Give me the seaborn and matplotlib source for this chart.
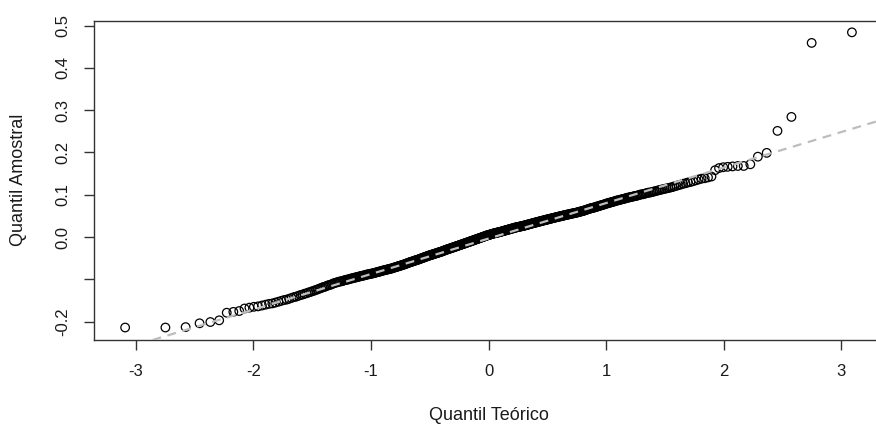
from statistics import NormalDist
import matplotlib
matplotlib.use("Agg")
import matplotlib.pyplot as plt
import numpy as np
import seaborn as sns

# Sorted sample values (rank order 1..500)
amostra = [
    -0.214, -0.214, -0.213, -0.204, -0.201, -0.197, -0.179, -0.177, -0.175, -0.169,
    -0.167, -0.165, -0.164, -0.162, -0.160, -0.158, -0.157, -0.155, -0.153, -0.151,
    -0.149, -0.148, -0.146, -0.144, -0.142, -0.141, -0.139, -0.137, -0.136, -0.134,
    -0.133, -0.131, -0.130, -0.128, -0.127, -0.125, -0.124, -0.122, -0.121, -0.119,
    -0.118, -0.117, -0.115, -0.114, -0.113, -0.112, -0.110, -0.109, -0.108, -0.107,
    -0.106, -0.105, -0.105, -0.104, -0.103, -0.102, -0.101, -0.101, -0.100, -0.099,
    -0.098, -0.098, -0.097, -0.096, -0.096, -0.095, -0.094, -0.094, -0.093, -0.092,
    -0.092, -0.091, -0.091, -0.090, -0.089, -0.089, -0.088, -0.088, -0.087, -0.087,
    -0.086, -0.086, -0.085, -0.085, -0.084, -0.083, -0.083, -0.082, -0.082, -0.081,
    -0.080, -0.080, -0.079, -0.079, -0.078, -0.078, -0.077, -0.077, -0.076, -0.076,
    -0.075, -0.075, -0.074, -0.074, -0.073, -0.072, -0.072, -0.071, -0.071, -0.070,
    -0.069, -0.069, -0.068, -0.068, -0.067, -0.066, -0.066, -0.065, -0.065, -0.064,
    -0.063, -0.063, -0.062, -0.061, -0.061, -0.060, -0.059, -0.059, -0.058, -0.058,
    -0.057, -0.057, -0.056, -0.055, -0.055, -0.054, -0.054, -0.053, -0.053, -0.052,
    -0.051, -0.051, -0.050, -0.050, -0.049, -0.048, -0.048, -0.047, -0.047, -0.046,
    -0.045, -0.045, -0.044, -0.044, -0.043, -0.043, -0.042, -0.042, -0.041, -0.041,
    -0.040, -0.040, -0.039, -0.039, -0.038, -0.038, -0.037, -0.037, -0.036, -0.036,
    -0.035, -0.035, -0.034, -0.034, -0.033, -0.033, -0.032, -0.031, -0.031, -0.030,
    -0.030, -0.029, -0.029, -0.028, -0.028, -0.027, -0.027, -0.026, -0.026, -0.025,
    -0.025, -0.024, -0.024, -0.023, -0.023, -0.022, -0.022, -0.021, -0.021, -0.020,
    -0.020, -0.019, -0.019, -0.018, -0.018, -0.017, -0.017, -0.016, -0.016, -0.015,
    -0.015, -0.014, -0.014, -0.013, -0.013, -0.012, -0.012, -0.011, -0.011, -0.010,
    -0.010, -0.009, -0.009, -0.008, -0.008, -0.007, -0.007, -0.006, -0.006, -0.005,
    -0.005, -0.004, -0.004, -0.003, -0.003, -0.002, -0.002, -0.001, -0.001, 0.000,
    0.000, 0.001, 0.001, 0.002, 0.002, 0.003, 0.003, 0.004, 0.004, 0.005,
    0.005, 0.005, 0.006, 0.006, 0.007, 0.007, 0.007, 0.008, 0.008, 0.009,
    0.009, 0.009, 0.010, 0.010, 0.010, 0.011, 0.011, 0.011, 0.012, 0.012,
    0.012, 0.013, 0.013, 0.014, 0.014, 0.014, 0.015, 0.015, 0.016, 0.016,
    0.016, 0.017, 0.017, 0.018, 0.018, 0.018, 0.019, 0.019, 0.020, 0.020,
    0.020, 0.021, 0.021, 0.022, 0.022, 0.022, 0.023, 0.023, 0.024, 0.024,
    0.024, 0.024, 0.025, 0.025, 0.025, 0.026, 0.026, 0.026, 0.027, 0.027,
    0.027, 0.028, 0.028, 0.029, 0.029, 0.029, 0.030, 0.030, 0.031, 0.031,
    0.031, 0.032, 0.032, 0.033, 0.033, 0.033, 0.034, 0.034, 0.035, 0.035,
    0.035, 0.036, 0.036, 0.037, 0.037, 0.037, 0.038, 0.038, 0.039, 0.039,
    0.039, 0.040, 0.040, 0.041, 0.041, 0.041, 0.042, 0.042, 0.043, 0.043,
    0.043, 0.044, 0.044, 0.045, 0.045, 0.045, 0.046, 0.046, 0.047, 0.047,
    0.047, 0.048, 0.048, 0.049, 0.049, 0.049, 0.050, 0.050, 0.051, 0.051,
    0.051, 0.052, 0.052, 0.053, 0.053, 0.053, 0.054, 0.054, 0.055, 0.055,
    0.055, 0.056, 0.056, 0.057, 0.057, 0.057, 0.058, 0.058, 0.059, 0.059,
    0.060, 0.060, 0.061, 0.061, 0.062, 0.062, 0.063, 0.064, 0.064, 0.065,
    0.066, 0.066, 0.067, 0.068, 0.068, 0.069, 0.069, 0.070, 0.070, 0.071,
    0.072, 0.072, 0.073, 0.074, 0.074, 0.075, 0.076, 0.076, 0.077, 0.078,
    0.079, 0.079, 0.080, 0.081, 0.081, 0.082, 0.083, 0.083, 0.084, 0.085,
    0.086, 0.086, 0.087, 0.088, 0.088, 0.089, 0.090, 0.090, 0.091, 0.092,
    0.093, 0.093, 0.094, 0.095, 0.095, 0.096, 0.097, 0.097, 0.098, 0.099,
    0.100, 0.101, 0.101, 0.102, 0.103, 0.104, 0.105, 0.105, 0.106, 0.107,
    0.108, 0.109, 0.110, 0.111, 0.112, 0.113, 0.114, 0.115, 0.116, 0.117,
    0.118, 0.120, 0.121, 0.123, 0.124, 0.126, 0.127, 0.129, 0.130, 0.132,
    0.134, 0.136, 0.138, 0.139, 0.141, 0.143, 0.158, 0.163, 0.165, 0.166,
    0.167, 0.168, 0.168, 0.172, 0.190, 0.199, 0.251, 0.284, 0.459, 0.484,
]

y_ticks = [-0.2, -0.1, 0.0, 0.1, 0.2, 0.3, 0.4, 0.5]
y_tick_labels = ["-0.2", "", "0.0", "0.1", "0.2", "0.3", "0.4", "0.5"]
x_ticks = [-3, -2, -1, 0, 1, 2, 3]
x_tick_labels = ["-3", "-2", "-1", "0", "1", "2", "3"]

sns.set_theme(style="white")
plt.rcParams["font.family"] = ["Liberation Sans", "DejaVu Sans"]

# theoretical quantiles like R's qqnorm (ppoints for n > 10)
n = len(amostra)
teorico = [NormalDist().inv_cdf((i + 0.5) / n) for i in range(n)]

# qqline: through the first and third quartiles
q1, q3 = np.quantile(amostra, [0.25, 0.75])
z1, z3 = NormalDist().inv_cdf(0.25), NormalDist().inv_cdf(0.75)
inclinacao = (q3 - q1) / (z3 - z1)
intercepto = q1 - inclinacao * z1

fig = plt.figure(figsize=(8.76, 4.32), dpi=100)
ax = fig.add_axes([94 / 876, 92 / 432, 782 / 876, 319.5 / 432])

sns.scatterplot(x=teorico, y=amostra, ax=ax, marker="o", s=38,
                facecolor="none", edgecolor="black", linewidth=0.9, zorder=2)
ax.axline((0, intercepto), slope=inclinacao, color="#bdbdbd", linewidth=1.6,
          linestyle=(0, (4, 3)), zorder=3)

ax.set_xlim(-3.355, 3.295)
ax.set_ylim(-0.2435, 0.512)

ax.set_xticks(x_ticks)
ax.set_xticklabels(x_tick_labels)
ax.set_yticks(y_ticks)
ax.set_yticklabels(y_tick_labels, rotation=90, va="center")

ax.tick_params(axis="both", direction="out", length=7, width=1, color="#333333",
               labelsize=12, labelcolor="#1a1a1a", bottom=True, left=True)
ax.tick_params(axis="x", pad=10)
ax.tick_params(axis="y", pad=10)

for side in ["left", "bottom", "top"]:
    ax.spines[side].set_color("#333333")
    ax.spines[side].set_linewidth(1)
ax.spines["right"].set_visible(False)

ax.set_xlabel("Quantil Teórico", fontsize=13, color="#1a1a1a")
ax.set_ylabel("Quantil Amostral", fontsize=13, color="#1a1a1a")
ax.xaxis.set_label_coords(0.505, -0.235)
ax.xaxis.label.set_va("center")
ax.yaxis.set_label_coords(-0.097, 0.5)
ax.yaxis.label.set_va("center")

fig.savefig("out.png", dpi=100)
